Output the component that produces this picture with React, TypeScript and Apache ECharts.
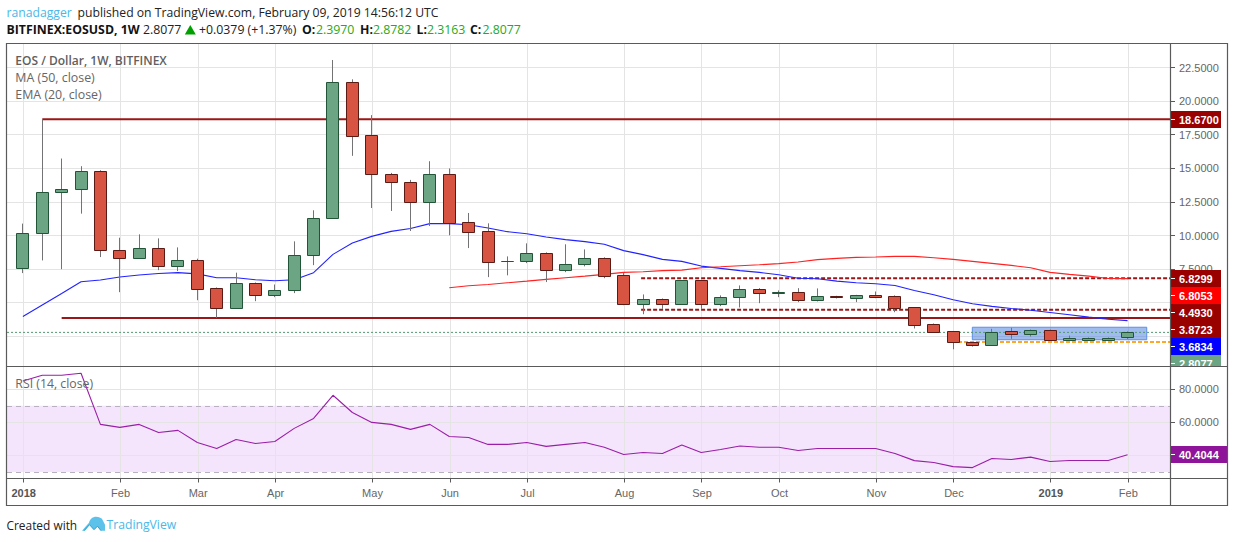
import React, { useEffect, useRef } from "react";
import * as echarts from "echarts";

const opens = [7.59,10.15,13.21,13.43,14.77,8.89,8.29,9.03,7.69,8.14,6.05,4.56,6.43,5.53,5.91,8.51,11.27,21.40,17.46,14.55,13.95,12.46,14.55,10.97,10.30,8.05,8.07,8.66,7.40,7.84,8.29,7.02,4.91,5.23,4.91,6.65,4.91,5.38,5.98,5.70,5.76,5.16,5.45,5.35,5.56,5.48,4.64,3.37,2.85,2.03,1.85,2.85,2.67,2.95,2.22,2.22,2.22,2.397];
const closes = [10.15,13.21,13.43,14.77,8.89,8.29,9.03,7.69,8.14,5.98,4.56,6.43,5.53,5.91,8.51,11.27,21.40,17.38,14.55,13.95,12.46,14.55,10.94,10.27,7.99,8.07,8.66,7.40,7.84,8.29,6.99,4.91,5.23,4.91,6.65,4.91,5.38,5.98,5.68,5.75,5.16,5.46,5.42,5.56,5.43,4.61,3.34,2.82,2.03,1.85,2.82,2.67,2.95,2.22,2.35,2.33,2.33,2.8077];
const lows = [7.22,8.16,7.51,11.64,8.41,5.80,8.29,7.44,7.37,5.20,3.89,4.56,5.13,5.43,5.73,7.81,11.27,15.94,12.06,11.84,10.35,10.72,10.03,9.08,6.92,7.05,7.96,6.55,7.29,7.72,6.84,4.83,4.16,4.56,4.91,4.56,4.76,4.66,4.98,5.43,5.06,5.11,5.33,5.06,5.35,4.31,3.10,2.82,1.55,1.75,1.85,2.33,2.50,2.22,2.20,2.20,2.20,2.3163];
const highs = [10.90,18.67,15.74,15.17,14.87,9.85,10.10,9.80,9.13,8.29,6.15,7.25,6.52,6.37,9.58,11.89,23.07,21.63,18.97,14.67,14.15,15.54,15.00,11.69,10.92,8.46,9.43,8.76,9.36,8.98,8.39,7.25,5.63,5.33,6.67,6.71,5.56,6.30,6.10,5.93,6.10,6.08,5.53,5.60,5.85,5.56,4.66,3.47,2.87,2.05,3.07,3.15,3.02,3.02,2.57,2.43,2.43,2.8782];
const ema20 = [3.99,4.85,5.70,6.58,6.71,6.93,7.08,7.19,7.25,7.16,6.87,6.87,6.72,6.65,6.72,7.25,8.61,9.45,9.95,10.32,10.53,10.90,10.90,10.82,10.57,10.30,10.15,9.90,9.71,9.56,9.36,8.89,8.59,8.24,8.09,7.74,7.57,7.40,7.27,7.10,6.84,6.80,6.62,6.50,6.43,6.30,5.93,5.61,5.23,4.94,4.74,4.59,4.46,4.29,4.12,3.94,3.79,3.6834];
const ma50Start = 22;
const ma50 = [6.13,6.28,6.37,6.50,6.62,6.75,6.87,6.99,7.12,7.27,7.32,7.40,7.44,7.62,7.69,7.77,7.84,7.92,8.04,8.22,8.31,8.39,8.41,8.46,8.46,8.36,8.24,8.09,7.94,7.79,7.62,7.27,7.12,6.99,6.82,6.8053];
const rsi = [85,88.5,88.5,89.7,58.8,57,58.8,53.9,55.2,47.9,44.2,49.7,47.3,48.5,56.4,62.4,76.4,66,60,58.8,55.8,58.8,51.5,50.9,46.7,46.7,47.9,45.5,46.7,47.9,45,40.6,41.8,41.2,46.3,41.8,43.6,45.7,45,45,43,44.2,44.2,44.2,44.2,41.2,36.9,35.8,33.3,32.7,38.2,37.6,39,36.4,37,37,37,40.4044];

const monthTickIndex = [0,5,9,13,18,22,26,31,35,39,44,48,53,57];
const monthLabels = ["2018","Feb","Mar","Apr","May","Jun","Jul","Aug","Sep","Oct","Nov","Dec","2019","Feb"];
const priceTicks = [2.5,5,7.5,10,12.5,15,17.5,20,22.5];
const priceLabelTicks = [7.5,10,12.5,15,17.5,20,22.5];
const rsiTicks = [40,60,80];
const rsiLabelTicks = [60,80];

const solidLevels = [
  { from: 1, price: 18.67 },
  { from: 2, price: 3.8723 },
];
const dashedLevels = [
  { from: 31.9, price: 6.8299 },
  { from: 31.9, price: 4.493 },
];
const supportLevel = { from: 48.25, price: 2.1 };
const lastPrice = 2.8077;
const boxX = [48.99, 57.99];
const boxY = [3.19, 2.26];

const priceTags = [
  { text: "18.6700", fill: "#990000", cy: 119.5 },
  { text: "6.8299", fill: "#990000", cy: 278.5 },
  { text: "6.8053", fill: "#ff0000", cy: 295.5 },
  { text: "4.4930", fill: "#990000", cy: 312.5 },
  { text: "3.8723", fill: "#990000", cy: 329.5 },
  { text: "3.6834", fill: "#0000ff", cy: 346.5 },
  { text: "2.8077", fill: "#6ba583", cy: 363.5 },
];
const rsiTag = { text: "40.4044", fill: "#8e1599", cy: 454.5 };

const headerParts = [
  { text: "BITFINEX:EOSUSD, 1W", x: 6.5, bold: true, fill: "#131313" },
  { text: "2.8077", x: 143, bold: false, fill: "#222222" },
  { text: "+0.0379 (+1.37%)", x: 199, bold: false, fill: "#222222" },
  { text: "O:", x: 302, bold: true, fill: "#131313" },
  { text: "2.3970", x: 316, bold: false, fill: "#22aa22" },
  { text: "H:", x: 360, bold: true, fill: "#131313" },
  { text: "2.8782", x: 373, bold: false, fill: "#22aa22" },
  { text: "L:", x: 416.5, bold: true, fill: "#131313" },
  { text: "2.3163", x: 427, bold: false, fill: "#22aa22" },
  { text: "C:", x: 470, bold: true, fill: "#131313" },
  { text: "2.8077", x: 482.5, bold: false, fill: "#22aa22" },
];

const UI_FONT = '"Open Sans", "Noto Sans", sans-serif';
const AXIS_FONT = '"Liberation Sans", Arial, sans-serif';
const X_MIN = -0.8204;
const X_MAX = 59.19;
const Y_MIN = 0.27;
const Y_MAX = 24.26;
const RSI_MIN = 26.1;
const RSI_MAX = 93.8;
const GRID_SHIFT = 0.04;
const GRID_COLOR = "#e4e4e4";
const TICK_COLOR = "#5a5a5a";

const LOGO_D = "M0 14 L7 6 C8 2 11 0 14 0 C17 0 20 1 21 4 L23 8 L23 14 L19 14 L15.5 9.5 L12 13 L7.5 8 L3 14 Z";

const snap = (v: number) => Math.round(v - 0.5) + 0.5;

function levelSeries(name: string, data: number[][], color: string, width: number, type: any, pane = 0, z = 3) {
  return { name, type: "line", xAxisIndex: pane, yAxisIndex: pane, data, symbol: "none", silent: true, z, lineStyle: { color, width, type } };
}

function renderHGrid(params: any, api: any) {
  const cs = params.coordSys;
  const y = snap(api.coord([api.value(0), api.value(1)])[1]);
  const right = cs.x + cs.width;
  return {
    type: "group",
    children: [
      { type: "line", shape: { x1: cs.x, y1: y, x2: right, y2: y }, style: { stroke: GRID_COLOR, lineWidth: 1 } },
      { type: "line", shape: { x1: right, y1: y, x2: right + 5, y2: y }, style: { stroke: TICK_COLOR, lineWidth: 1 } },
    ],
  };
}

const makeVGrid = (withTick: boolean) => (params: any, api: any) => {
  const cs = params.coordSys;
  const x = snap(api.coord([api.value(0), api.value(1)])[0]);
  const bottom = cs.y + cs.height;
  const children: any[] = [{ type: "line", shape: { x1: x, y1: cs.y, x2: x, y2: bottom }, style: { stroke: GRID_COLOR, lineWidth: 1 } }];
  if (withTick) children.push({ type: "line", shape: { x1: x, y1: bottom, x2: x, y2: bottom + 4 }, style: { stroke: TICK_COLOR, lineWidth: 1 } });
  return { type: "group", children };
};

function renderCandle(_p: any, api: any) {
  const i = api.value(0);
  const o = api.value(1);
  const c = api.value(2);
  const l = api.value(3);
  const h = api.value(4);
  const up = c >= o;
  const x = snap(api.coord([i, o])[0]);
  const yO = snap(api.coord([i, o])[1]);
  const yC = snap(api.coord([i, c])[1]);
  const yL = api.coord([i, l])[1];
  const yH = api.coord([i, h])[1];
  const top = Math.min(yO, yC);
  const bh = Math.abs(yO - yC);
  return {
    type: "group",
    children: [
      { type: "line", shape: { x1: x, y1: yH, x2: x, y2: yL }, style: { stroke: "#737375", lineWidth: 1 } },
      { type: "rect", shape: { x: x - 6, y: top, width: 12, height: bh }, style: { fill: up ? "#6ba583" : "#d75442", stroke: up ? "#225437" : "#5b1a13", lineWidth: 1 } },
    ],
  };
}

export default function App() {
  const ref = useRef<HTMLDivElement>(null);
  useEffect(() => {
    echarts.graphic.registerShape("tvlogo", echarts.graphic.extendPath(LOGO_D, {}) as any);
    const chart = echarts.init(ref.current!, null, { renderer: "svg" });
    const txt = (text: string, x: number, y: number, fill: string, font: string, align = "left", z = 30) => ({
      type: "text", z, silent: true, style: { text, x, y, fill, font, align, verticalAlign: "middle" },
    });
    const graphic: any[] = [];
    graphic.push(txt("ranadagger", 6.5, 12.5, "#4ab8e8", `12.2px ${UI_FONT}`));
    graphic.push(txt("published on TradingView.com, February 09, 2019 14:56:12 UTC", 77.5, 12.5, "#222222", `12.2px ${UI_FONT}`));
    headerParts.forEach((p) => graphic.push(txt(p.text, p.x, 29.5, p.fill, `${p.bold ? "bold " : ""}12.3px ${UI_FONT}`)));
    graphic.push({ type: "polygon", z: 30, silent: true, shape: { points: [[190.3, 25], [195.8, 34.5], [184.8, 34.5]] }, style: { fill: "#00a000" } });
    graphic.push(txt("EOS / Dollar, 1W, BITFINEX", 15.3, 60.5, "#5f5f5f", `600 12px ${UI_FONT}`));
    graphic.push(txt("MA (50, close)", 15.3, 77.5, "#666666", `12.4px ${UI_FONT}`));
    graphic.push(txt("EMA (20, close)", 15.3, 94.5, "#666666", `12.4px ${UI_FONT}`));
    graphic.push(txt("RSI (14, close)", 15.3, 383.5, "#666666", `12.3px ${UI_FONT}`));
    priceTags.forEach((t) => {
      graphic.push({ type: "rect", z: 20, silent: true, shape: { x: 1170, y: t.cy - 8.5, width: 51, height: 17 }, style: { fill: t.fill } });
      graphic.push({ type: "line", z: 21, silent: true, shape: { x1: 1171, y1: t.cy, x2: 1175, y2: t.cy }, style: { stroke: "#ffffff", lineWidth: 1 } });
      graphic.push(txt(t.text, 1179, t.cy, "#ffffff", `bold 11px ${AXIS_FONT}`, "left", 21));
    });
    graphic.push({ type: "rect", z: 22, silent: true, shape: { x: 1171, y: 366.5, width: 56, height: 12 }, style: { fill: "#ffffff" } });
    graphic.push({ type: "rect", z: 22, silent: true, shape: { x: 1170, y: rsiTag.cy - 8.5, width: 57, height: 17 }, style: { fill: rsiTag.fill } });
    graphic.push({ type: "line", z: 23, silent: true, shape: { x1: 1171, y1: rsiTag.cy, x2: 1175, y2: rsiTag.cy }, style: { stroke: "#ffffff", lineWidth: 1 } });
    graphic.push(txt(rsiTag.text, 1179, rsiTag.cy, "#ffffff", `bold 11px ${AXIS_FONT}`, "left", 23));
    graphic.push({ type: "rect", z: 40, silent: true, shape: { x: 6.5, y: 43.5, width: 1221, height: 462 }, style: { fill: "none", stroke: "#5a5a5a", lineWidth: 1.2 } });
    graphic.push({ type: "line", z: 40, silent: true, shape: { x1: 6.5, y1: 366.5, x2: 1227.5, y2: 366.5 }, style: { stroke: "#5a5a5a", lineWidth: 1.2 } });
    graphic.push({ type: "line", z: 40, silent: true, shape: { x1: 6.5, y1: 478.5, x2: 1227.5, y2: 478.5 }, style: { stroke: "#5a5a5a", lineWidth: 1.2 } });
    graphic.push({ type: "line", z: 40, silent: true, shape: { x1: 1170.5, y1: 43.5, x2: 1170.5, y2: 505.5 }, style: { stroke: "#5a5a5a", lineWidth: 1.2 } });
    graphic.push(txt("Created with", 6.5, 524.5, "#222222", `11.9px ${UI_FONT}`));
    graphic.push({ type: "tvlogo", z: 30, silent: true, x: 82, y: 516.7, style: { fill: "#5cc2ea" } });
    graphic.push({ type: "polyline", z: 31, silent: true, x: 82, y: 516.7, shape: { points: [[2, 14], [7.5, 8], [12, 13], [15.5, 9.5], [19, 14]] }, style: { stroke: "#2f9fd0", fill: "none", lineWidth: 1 } });
    graphic.push(txt("TradingView", 106.5, 524.5, "#4ab8e8", `12.2px ${UI_FONT}`));

    const tickPositions = monthTickIndex.map((i) => i + GRID_SHIFT);
    const labelFor = (v: number) => {
      const k = monthTickIndex.indexOf(Math.round(v - GRID_SHIFT));
      if (k < 0) return "";
      const s = monthLabels[k];
      return /^\d/.test(s) ? `{y|${s}}` : s;
    };
    const gridSeries = (ys: number[], yMin: number, pane: number) => [
      { name: `GridH${pane}`, type: "custom", xAxisIndex: pane, yAxisIndex: pane, z: 1, silent: true, clip: false, renderItem: renderHGrid, encode: { x: 0, y: 1 }, data: ys.map((v) => [X_MIN, v]) },
      { name: `GridV${pane}`, type: "custom", xAxisIndex: pane, yAxisIndex: pane, z: 1, silent: true, clip: false, renderItem: makeVGrid(pane === 1), encode: { x: 0, y: 1 }, data: tickPositions.map((v) => [v, yMin]) },
    ];

    const option: any = {
      animation: false,
      backgroundColor: "#ffffff",
      graphic,
      grid: [
        { left: 7, top: 44, width: 1163, height: 322.5 },
        { left: 7, top: 366.5, width: 1163, height: 112 },
      ],
      xAxis: [
        { type: "value", gridIndex: 0, min: X_MIN, max: X_MAX, axisLine: { show: false }, axisTick: { show: false }, axisLabel: { show: false }, splitLine: { show: false } },
        {
          type: "value", gridIndex: 1, min: X_MIN, max: X_MAX,
          axisLine: { show: false },
          axisTick: { show: false },
          axisLabel: {
            show: true, customValues: tickPositions, margin: 9, hideOverlap: false,
            color: "#666666", fontFamily: AXIS_FONT, fontSize: 11, formatter: labelFor,
            rich: { y: { fontWeight: "bold", color: "#555555", fontFamily: AXIS_FONT, fontSize: 11 } },
          },
          splitLine: { show: false },
        },
      ],
      yAxis: [
        {
          type: "value", gridIndex: 0, position: "right", min: Y_MIN, max: Y_MAX, scale: true,
          axisLine: { show: false },
          axisTick: { show: false },
          axisLabel: { show: true, customValues: priceLabelTicks, margin: 9, color: "#666666", fontFamily: AXIS_FONT, fontSize: 11, formatter: (v: number) => v.toFixed(4) },
          splitLine: { show: false },
        },
        {
          type: "value", gridIndex: 1, position: "right", min: RSI_MIN, max: RSI_MAX, scale: true,
          axisLine: { show: false },
          axisTick: { show: false },
          axisLabel: { show: true, customValues: rsiLabelTicks, margin: 9, color: "#666666", fontFamily: AXIS_FONT, fontSize: 11, formatter: (v: number) => v.toFixed(4) },
          splitLine: { show: false },
        },
      ],
      series: [
        ...gridSeries(priceTicks, Y_MIN, 0),
        ...gridSeries(rsiTicks, RSI_MIN, 1),
        {
          name: "Box", type: "line", data: [], z: 2, silent: true,
          markArea: {
            silent: true, z: 2,
            itemStyle: { color: "rgba(66,120,220,0.5)", borderColor: "#5b8fe8", borderWidth: 1 },
            data: [[{ coord: [boxX[0], boxY[0]] }, { coord: [boxX[1], boxY[1]] }]],
          },
        },
        levelSeries("Last", [[X_MIN, lastPrice], [X_MAX, lastPrice]], "#53986f", 1, [2, 2]),
        ...solidLevels.map((l, k) => levelSeries(`Solid${k}`, [[l.from, l.price], [X_MAX, l.price]], "#9b1616", 2, "solid")),
        ...dashedLevels.map((l, k) => levelSeries(`Dash${k}`, [[l.from, l.price], [X_MAX, l.price]], "#9b1616", 2, [4, 2])),
        levelSeries("Support", [[supportLevel.from, supportLevel.price], [X_MAX, supportLevel.price]], "#ffa726", 2, [4, 2]),
        { name: "EMA 20", type: "line", symbol: "none", z: 4, silent: true, data: ema20.map((v, i) => [i, v]), lineStyle: { color: "#2222ff", width: 1.1 } },
        { name: "MA 50", type: "line", symbol: "none", z: 4, silent: true, data: ma50.map((v, i) => [i + ma50Start, v]), lineStyle: { color: "#ff2222", width: 1.1 } },
        { name: "EOSUSD", type: "custom", z: 6, silent: true, renderItem: renderCandle, encode: { x: 0, y: [1, 2, 3, 4] }, data: opens.map((o, i) => [i, o, closes[i], lows[i], highs[i]]) },
        {
          name: "RSI", type: "line", xAxisIndex: 1, yAxisIndex: 1, symbol: "none", z: 5, silent: true,
          data: rsi.map((v, i) => [i, v]),
          lineStyle: { color: "#9a1ea8", width: 1.1 },
          markArea: { silent: true, itemStyle: { color: "rgba(148,0,230,0.1)" }, data: [[{ yAxis: 70 }, { yAxis: 30 }]] },
          markLine: { silent: true, symbol: "none", label: { show: false }, lineStyle: { color: "#b9b0c0", type: [5, 4], width: 1 }, data: [{ yAxis: 70 }, { yAxis: 30 }] },
        },
      ],
    };
    chart.setOption(option);
    return () => chart.dispose();
  }, []);
  return <div ref={ref} style={{ position: "absolute", left: 0, top: 0, width: 1234, height: 542 }} />;
}
